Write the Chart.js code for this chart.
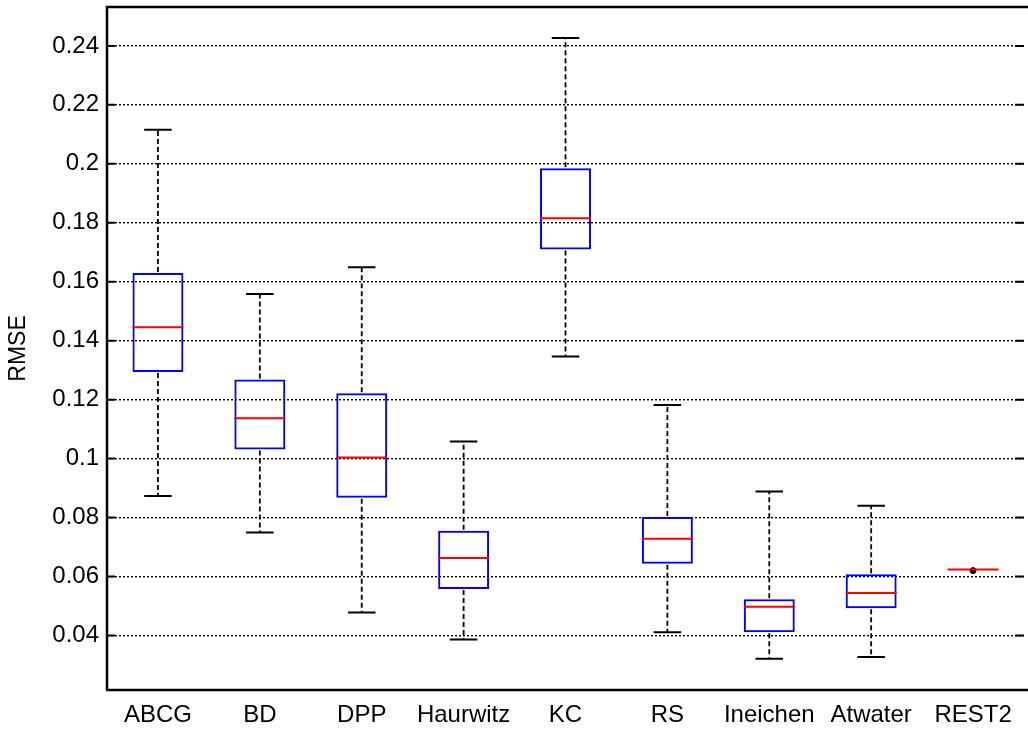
<!DOCTYPE html>
<html>
<head>
<meta charset="utf-8">
<script src="https://cdn.jsdelivr.net/npm/chart.js@4/dist/chart.umd.min.js"></script>
<style>
  body { margin: 0; background: #fff; overflow: hidden; }
  #wrap { width: 1029px; height: 730px; }
</style>
</head>
<body>
<div id="wrap"><canvas id="myChart" width="1029" height="730"></canvas></div>
<script>
const categories = ["ABCG", "BD", "DPP", "Haurwitz", "KC", "RS", "Ineichen", "Atwater", "REST2"];
const whiskerHigh = [0.2116, 0.1558, 0.1649, 0.1058, 0.2427, 0.1182, 0.0888, 0.0840, 0.0624];
const upperQuartile = [0.1630, 0.1268, 0.1222, 0.0755, 0.1985, 0.0802, 0.0523, 0.0608, 0.0624];
const medians = [0.1446, 0.1137, 0.1004, 0.0663, 0.1815, 0.0728, 0.0497, 0.0544, 0.0624];
const lowerQuartile = [0.1294, 0.1031, 0.0867, 0.0558, 0.1709, 0.0643, 0.0411, 0.0492, 0.0624];
const whiskerLow = [0.0873, 0.0749, 0.0478, 0.0386, 0.1346, 0.0411, 0.0321, 0.0327, 0.0624];
const outliers = [null, null, null, null, null, null, null, null, 0.0620];
const yTicks = [0.04, 0.06, 0.08, 0.1, 0.12, 0.14, 0.16, 0.18, 0.2, 0.22, 0.24];

const FONT = "'Liberation Sans', Arial, sans-serif";

// whiskers, caps and medians, placed with the chart's own scales
const boxPlugin = {
  id: "boxWhiskers",
  afterDatasetsDraw(chart) {
    const ctx = chart.ctx;
    const y = chart.scales.y;
    const bars = chart.getDatasetMeta(0).data;
    ctx.save();
    bars.forEach((bar, i) => {
      const cx = bar.x;
      const half = bar.width / 2;
      const cap = bar.width * 0.27;
      const yHi = y.getPixelForValue(whiskerHigh[i]);
      const yQ3 = y.getPixelForValue(upperQuartile[i]);
      const yQ1 = y.getPixelForValue(lowerQuartile[i]);
      const yLo = y.getPixelForValue(whiskerLow[i]);
      const yMed = y.getPixelForValue(medians[i]);

      if (whiskerHigh[i] !== whiskerLow[i]) {
        ctx.strokeStyle = "#000";
        ctx.lineWidth = 1.8;
        ctx.setLineDash([5, 3]);
        ctx.beginPath();
        ctx.moveTo(cx, yQ3 - 1); ctx.lineTo(cx, yHi);
        ctx.moveTo(cx, yQ1 + 1); ctx.lineTo(cx, yLo);
        ctx.stroke();
        ctx.setLineDash([]);
        ctx.lineWidth = 2;
        ctx.beginPath();
        ctx.moveTo(cx - cap, yHi); ctx.lineTo(cx + cap, yHi);
        ctx.moveTo(cx - cap, yLo); ctx.lineTo(cx + cap, yLo);
        ctx.stroke();
      }

      ctx.strokeStyle = "#ff0000";
      ctx.lineWidth = 2;
      ctx.setLineDash([]);
      ctx.beginPath();
      ctx.moveTo(cx - half, yMed); ctx.lineTo(cx + half, yMed);
      ctx.stroke();
    });
    ctx.restore();
  },
  afterDraw(chart) {
    const ctx = chart.ctx;
    const a = chart.chartArea;
    const y = chart.scales.y;
    ctx.save();
    ctx.strokeStyle = "#000";
    ctx.lineWidth = 2.5;
    ctx.setLineDash([]);
    ctx.strokeRect(a.left, a.top, a.right - a.left + 6, a.bottom - a.top);
    ctx.lineWidth = 2;
    ctx.beginPath();
    yTicks.forEach(v => {
      const py = y.getPixelForValue(v);
      ctx.moveTo(a.left, py); ctx.lineTo(a.left + 8, py);
      ctx.moveTo(a.right, py); ctx.lineTo(a.right - 9, py);
    });
    ctx.stroke();
    ctx.restore();
  }
};

const ctx = document.getElementById("myChart").getContext("2d");
new Chart(ctx, {
  type: "bar",
  data: {
    labels: categories,
    datasets: [{
      label: "box",
      data: categories.map((c, i) => [lowerQuartile[i], upperQuartile[i]]),
      backgroundColor: "rgba(0,0,0,0)",
      borderColor: categories.map((c, i) => upperQuartile[i] === lowerQuartile[i] ? "rgba(0,0,0,0)" : "#0000ff"),
      borderWidth: 2,
      borderSkipped: false,
      categoryPercentage: 1,
      barPercentage: 0.5
    }, {
      type: "line",
      label: "outliers",
      data: outliers,
      showLine: false,
      pointRadius: 3,
      pointBackgroundColor: "#000",
      pointBorderColor: "#000"
    }]
  },
  options: {
    responsive: false,
    animation: false,
    layout: { padding: { top: 7, right: 0, left: 0, bottom: 0 } },
    plugins: {
      legend: { display: false },
      tooltip: { enabled: false }
    },
    scales: {
      x: {
        grid: { display: false, drawTicks: false },
        border: { display: false },
        ticks: {
          color: "#000",
          padding: 11,
          font: { family: FONT, size: 24 }
        },
        afterFit(scale) { scale.height = 40; scale.paddingLeft = 0; scale.paddingRight = 0; }
      },
      y: {
        min: 0.0215,
        max: 0.2532,
        afterBuildTicks(scale) {
          scale.ticks = yTicks.map(v => ({ value: v }));
        },
        ticks: {
          color: "#000",
          padding: 8,
          font: { family: FONT, size: 24 },
          callback: v => String(+v.toFixed(2))
        },
        grid: { color: "#000", lineWidth: 1.4, drawTicks: false },
        border: { display: false, dash: [2, 2] },
        title: {
          display: true,
          text: "RMSE",
          color: "#000",
          padding: { top: 5, bottom: 0 },
          font: { family: FONT, size: 23 }
        },
        afterFit(scale) { scale.width = 107; scale.paddingTop = 0; scale.paddingBottom = 0; }
      }
    }
  },
  plugins: [boxPlugin]
});
</script>
</body>
</html>
